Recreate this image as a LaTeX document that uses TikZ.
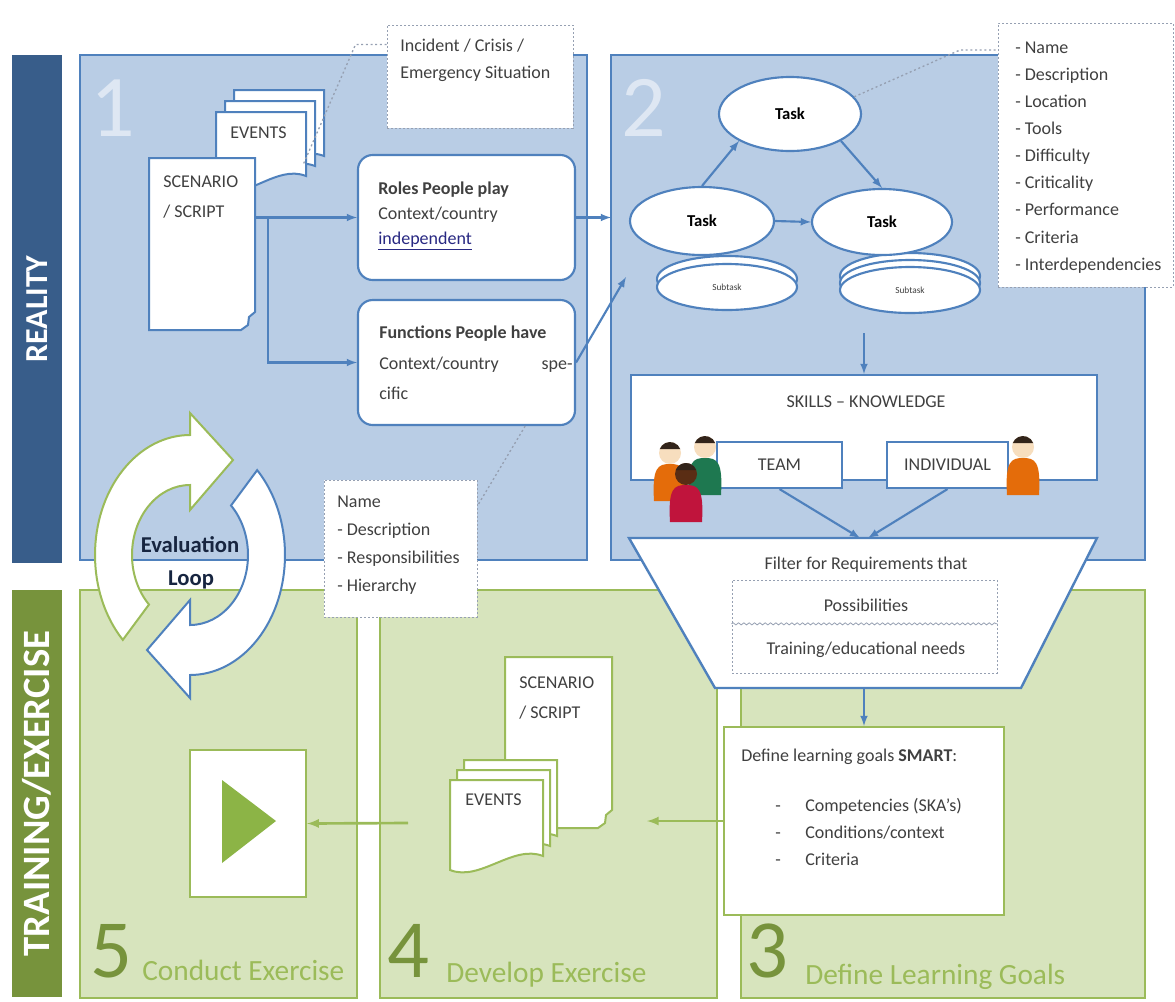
\documentclass[tikz,border=0pt]{standalone}
\usepackage{fontspec}
\setmainfont{Carlito}
\usetikzlibrary{shapes.geometric,decorations.pathmorphing,positioning}

\definecolor{realblue}{RGB}{56,93,138}
\definecolor{trainolive}{RGB}{119,147,60}
\definecolor{bluefill}{RGB}{185,205,229}
\definecolor{blueline}{RGB}{79,129,189}
\definecolor{greenfill}{RGB}{215,228,189}
\definecolor{greenline}{RGB}{155,187,89}
\definecolor{notedash}{RGB}{150,160,178}
\definecolor{bodytext}{RGB}{64,64,64}
\definecolor{numblue}{RGB}{222,231,243}
\definecolor{loopnavy}{RGB}{23,37,64}
\definecolor{linknavy}{RGB}{40,40,130}
\definecolor{hair}{RGB}{50,36,26}
\definecolor{skin}{RGB}{247,222,190}
\definecolor{darkskin}{RGB}{90,45,20}
\definecolor{shirtorange}{RGB}{228,108,10}
\definecolor{shirtgreen}{RGB}{30,120,80}
\definecolor{shirtred}{RGB}{192,20,60}
\definecolor{playgreen}{RGB}{140,180,70}

\tikzset{
  sidebar/.style={rotate=90, text=white, inner sep=0},
  realpanel/.style={draw=blueline, fill=bluefill, line width=1.6pt},
  trainpanel/.style={draw=greenline, fill=greenfill, line width=1.6pt},
  note/.style={draw=notedash, fill=white, line width=0.7pt, dash pattern=on 1.5pt off 1.5pt},
  leader/.style={draw=notedash, line width=1pt, dash pattern=on 1.5pt off 2pt},
  flow/.style={draw=blueline, line width=1.6pt, -latex},
  gflow/.style={draw=greenline, line width=2pt, -latex},
  bluepage/.style={draw=blueline, fill=white, line width=1.5pt},
  greenpage/.style={draw=greenline, fill=white, line width=1.5pt},
  box/.style={draw=blueline, fill=white, line width=1.6pt, inner sep=0, text=bodytext, font=\fontsize{13.5}{16}\selectfont},
  task/.style={ellipse, draw=blueline, fill=white, line width=1.6pt, inner sep=0, font=\fontsize{12.5}{14}\selectfont\bfseries},
  subtask/.style={task, font=\fontsize{7}{8}\selectfont, text=bodytext},
  txt/.style={font=\fontsize{13.5}{19}\selectfont, text=bodytext, inner sep=0, align=left},
  listtxt/.style={font=\fontsize{13.5}{20.3}\selectfont, text=bodytext, inner sep=0, align=left},
  panelnum/.style={font=\fontsize{66}{66}\selectfont, text=numblue, inner sep=0},
  stepnum/.style={font=\fontsize{62}{62}\selectfont, text=trainolive, inner sep=0, text depth=0pt, anchor=base west},
  steptitle/.style={font=\fontsize{22}{24}\selectfont, text=greenline, inner sep=0, text depth=0pt, anchor=base west},
}

% page with a wavy lower edge: style, x1, y1, x2, y2
\newcommand{\wavypage}[5]{%
  \filldraw[#1] (#2,#3) -- (#4,#3) -- (#4,{#5-14})
    .. controls ({#4-30},{#5-26}) and ({#2+30},{#5+12}) .. (#2,#5) -- cycle;}
% page with a curled corner: style, x1, y1, x2, y2
\newcommand{\scriptpage}[5]{%
  \filldraw[#1] (#2,#3) -- (#4,#3) -- (#4,{#5-18}) -- ({#4-6},{#5-13})
    -- ({#4-7},{#5-5}) -- ({#4-14},#5) -- (#2,#5) -- cycle;}
% little person: head x, head y, shirt, skin
\newcommand{\person}[4]{%
  \fill[#3] ({#1-16},{#2+48}) .. controls ({#1-18},{#2+14}) and ({#1-12},{#2+11}) .. (#1,{#2+11})
    .. controls ({#1+12},{#2+11}) and ({#1+18},{#2+14}) .. ({#1+16},{#2+48}) -- cycle;
  \fill[#4] (#1,#2) circle[radius=11];
  \fill[hair] ([shift={(200:11)}]#1,#2) arc[start angle=200, end angle=340, radius=11] -- cycle;}

\begin{document}
\begin{tikzpicture}[x=0.75pt, y=-0.75pt]
\useasboundingbox (0,0) rectangle (1175,1001);

% side bars
\node[sidebar, fill=realblue, minimum width=381pt, minimum height=37.5pt,
  font=\fontsize{24}{24}\selectfont\bfseries] (reality) at (37,309) {REALITY};
\node[sidebar, fill=trainolive, minimum width=305pt, minimum height=37.5pt,
  font=\fontsize{29}{29}\selectfont\bfseries] (training) at (37,793.5) {TRAINING/EXERCISE};

% panels
\draw[realpanel] (80,55) rectangle (587,560);
\draw[realpanel] (611,55) rectangle (1145,560);
\draw[trainpanel] (80,590) rectangle (357,998);
\draw[trainpanel] (380,590) rectangle (717,998);
\draw[trainpanel] (741,590) rectangle (1145,998);
\coordinate (p2w) at (611,300);

\node[panelnum] (num1) at (113,108) {1};
\node[panelnum] (num2) at (644,108) {2};
\node[stepnum] (num5) at (90,977) {5};
\node[steptitle] (title5) at (142,980) {Conduct Exercise};
\node[stepnum] (num4) at (387,977) {4};
\node[steptitle] (title4) at (446,982) {Develop Exercise};
\node[stepnum] (num3) at (746,977) {3};
\node[steptitle] (title3) at (805,984) {Define Learning Goals};

% panel 1: scenario, roles, functions
\wavypage{bluepage}{234}{90}{324}{170}
\wavypage{bluepage}{225}{101}{315}{180}
\wavypage{bluepage}{216}{112}{306}{190}
\node[txt, anchor=west] (events1) at (230,133) {EVENTS};
\coordinate (ev1) at (303,165);
\scriptpage{bluepage}{149}{158}{255}{330}
\node[inner sep=0, minimum width=79.5pt, minimum height=129pt] (scen1) at (202,244) {};
\node[txt, anchor=west, font=\fontsize{13.5}{22}\selectfont] (script1) at (163,197) {SCENARIO\\/ SCRIPT};

\node[box, rounded corners=11pt, minimum width=162.75pt, minimum height=93.75pt] (roles) at (466.5,217.5) {};
\node[txt, anchor=west] (rolestxt) at (378,216) {\textbf{Roles People play}\\Context/country\\\textcolor{linknavy}{\underline{independent}}};
\node[box, rounded corners=11pt, minimum width=162.75pt, minimum height=93.75pt] (func) at (466.5,362.5) {};
\node[txt, anchor=west] (functxt) at (379,363) {\textbf{Functions People have}\\[4pt]Context/country\hspace{32pt}spe-\\[4pt]cific};

\coordinate (fork) at (268,217.5);
\draw[flow] (scen1.east |- fork) -- (roles.west);
\draw[flow] (fork) |- (func.west);
\draw[flow] (roles.east) -- (roles.east -| p2w);
\coordinate (p2in) at (626,277);
\draw[flow] (func.east) -- (p2in);

\node[note, minimum width=139.5pt, minimum height=77.25pt] (incident) at (480,76.5) {};
\node[txt, anchor=west, font=\fontsize{13.5}{20}\selectfont] (incidenttxt) at (400,60) {Incident / Crisis /\\Emergency Situation};
\draw[leader] ([yshift=-15pt]incident.north west) -- ++(-31,0) -- (ev1);

\node[note, minimum width=114.75pt, minimum height=102.75pt] (namebox) at (400.5,548.5) {};
\node[listtxt, anchor=west, font=\fontsize{13.5}{21}\selectfont] (nametxt) at (337,545) {Name\\- Description\\- Responsibilities\\- Hierarchy};
\draw[leader] ([xshift=44pt]func.south) -- ([yshift=32pt]namebox.east);

% panel 2: tasks
\node[subtask, minimum width=105pt, minimum height=34.5pt] (ls1) at (727,279) {};
\node[subtask, minimum width=105pt, minimum height=34.5pt] (ls2) at (727,287) {Subtask};
\node[subtask, minimum width=105pt, minimum height=34.5pt] (rs1) at (910,276) {};
\node[subtask, minimum width=105pt, minimum height=34.5pt] (rs2) at (910,283) {};
\node[subtask, minimum width=105pt, minimum height=34.5pt] (rs3) at (910,290) {Subtask};
\node[task, minimum width=106.5pt, minimum height=55.5pt] (ttask) at (790,114) {Task};
\node[task, minimum width=108pt, minimum height=51pt] (ltask) at (702,221) {Task};
\node[task, minimum width=105pt, minimum height=49.5pt] (rtask) at (882,222) {Task};
\draw[flow] (ltask.north) -- (ttask.south west);
\draw[flow] (ttask.south east) -- (rtask.north);
\draw[flow] (ltask.east) -- (rtask.west);

\node[note, minimum width=131.25pt, minimum height=198pt] (attr) at (1085.5,155) {};
\node[listtxt, anchor=west] (attrtxt) at (1015,157.5) {- Name\\- Description\\- Location\\- Tools\\- Difficulty\\- Criticality\\- Performance\\- Criteria\\- Interdependencies};
\coordinate (attrhook) at (960,50);
\draw[leader] (ttask.15) -- (attrhook) -- (attrhook -| attr.west);

% skills and knowledge
\node[box, minimum width=349.5pt, minimum height=78.75pt] (skills) at (864,427.5) {};
\node[txt] (skillstxt) at (866,402) {SKILLS -- KNOWLEDGE};
\coordinate (taskout) at (864,333);
\draw[flow] (taskout) -- (skills.north);
\node[box, minimum width=93.75pt, minimum height=34.5pt] (team) at (779.5,465) {TEAM};
\node[box, minimum width=90.75pt, minimum height=34.5pt] (indiv) at (947.5,465) {INDIVIDUAL};
\person{705}{447}{shirtgreen}{skin}
\person{670}{453}{shirtorange}{skin}
\person{686}{474}{shirtred}{darkskin}
\person{1023}{447}{shirtorange}{skin}

% filter funnel
\filldraw[draw=blueline, fill=white, line width=1.8pt] (629,538) -- (1097,538) -- (1021,688) -- (715,688) -- cycle;
\coordinate (funtop) at (864,538);
\coordinate (funbot) at (864,688);
\draw[flow] (team.south) -- ([xshift=-3pt]funtop);
\draw[flow] (indiv.south) -- ([xshift=3pt]funtop);
\node[txt] (filtertxt) at (866,565) {Filter for Requirements that};
\node[note, minimum width=198.75pt, minimum height=69.75pt] (needs) at (864.5,626.5) {};
\draw[draw=notedash, line width=0.6pt, decorate, decoration={snake, amplitude=0.8pt, segment length=4pt}]
  ([yshift=2pt]needs.west) -- ([yshift=2pt]needs.east);
\node[txt] (poss) at (866,605) {Possibilities};
\node[txt] (trneeds) at (866,650) {Training/educational needs};

% panel 3: learning goals
\node[draw=greenline, fill=white, line width=1.6pt, minimum width=210pt, minimum height=141pt] (define) at (864,821) {};
\draw[flow] (funbot) -- (define.north);
\node[txt, anchor=west] (definetxt) at (741,757) {Define learning goals \textbf{SMART}:};
\node[listtxt, anchor=west] (bullets) at (775,833) {-\strut\\-\strut\\-\strut};
\node[listtxt, anchor=west] (goals) at (805,833) {Competencies (SKA’s)\strut\\Conditions/context\strut\\Criteria\strut};

% panel 4: develop exercise
\scriptpage{greenpage}{505}{657}{612}{828}
\node[txt, anchor=west, font=\fontsize{13.5}{22}\selectfont] (script4) at (519,698) {SCENARIO\\/ SCRIPT};
\wavypage{greenpage}{464}{760}{557}{850}
\wavypage{greenpage}{457}{770}{550}{860}
\wavypage{greenpage}{450}{780}{543}{870}
\node[txt, anchor=west] (events4) at (465,800) {EVENTS};
\coordinate (p4out) at (647,822);
\draw[gflow] (define.west) -- (define.west -| p4out);

% panel 5: conduct exercise
\node[draw=greenline, fill=white, line width=1.6pt, minimum width=87pt, minimum height=110.25pt] (play) at (248,823.5) {};
\fill[playgreen] (222,780) -- (276,821) -- (222,863) -- cycle;
\coordinate (p4in) at (408,823);
\draw[gflow] (p4in) -- (play.east);

% evaluation loop
\coordinate (loopc) at (190,555);
\filldraw[draw=greenline, fill=white, line width=1.5pt]
  ([shift={(135:95 and 120)}]loopc) arc[start angle=135, end angle=270, x radius=95, y radius=120]
  -- (190,413) -- (233,460) -- (190,510) -- (190,485)
  arc[start angle=270, end angle=135, x radius=58, y radius=70] -- cycle;
\filldraw[draw=blueline, fill=white, line width=1.5pt]
  ([shift={(-45:95 and 120)}]loopc) arc[start angle=-45, end angle=90, x radius=95, y radius=120]
  -- (190,698) -- (147,650) -- (190,600) -- (190,625)
  arc[start angle=90, end angle=-45, x radius=58, y radius=70] -- cycle;
\node[font=\fontsize{17}{17}\selectfont\bfseries, text=loopnavy, inner sep=0] (evaltxt) at (190,545) {Evaluation};
\node[font=\fontsize{17}{17}\selectfont\bfseries, text=loopnavy, inner sep=0] (looptxt) at (191,580) {Loop};
\end{tikzpicture}
\end{document}
